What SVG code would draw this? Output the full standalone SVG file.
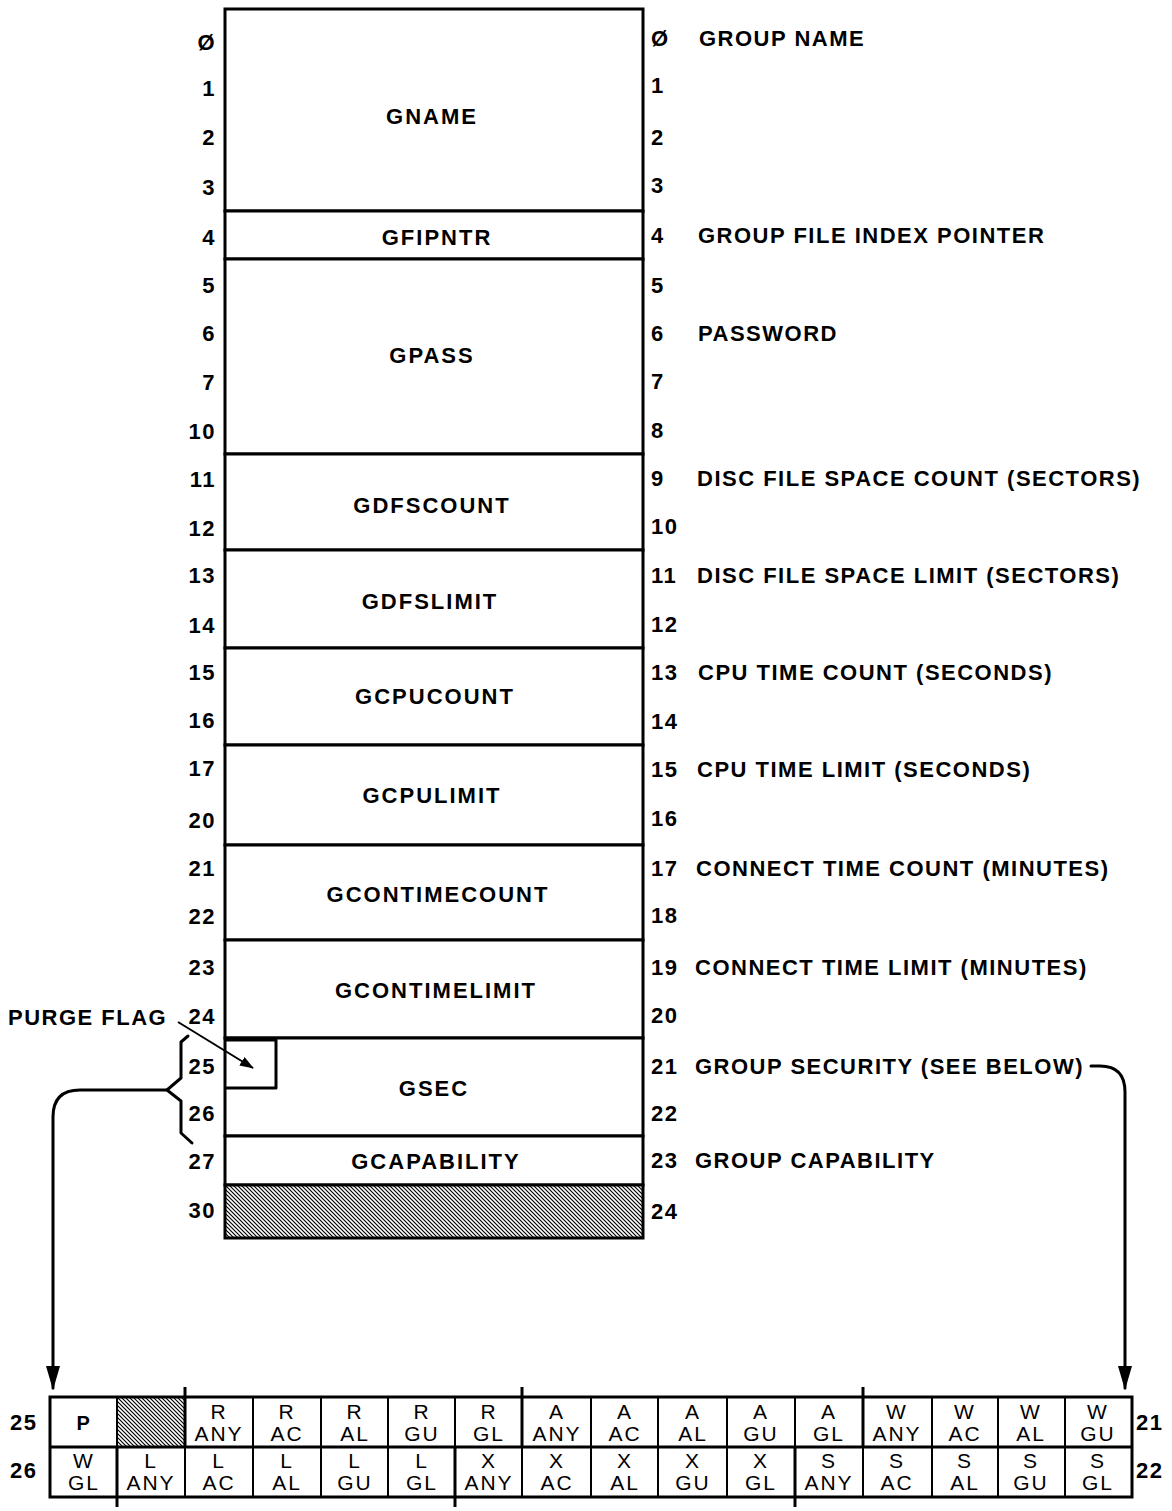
<svg xmlns="http://www.w3.org/2000/svg" width="1172" height="1511" viewBox="0 0 1172 1511">
<style>
.b{font-family:"Liberation Sans",Arial,sans-serif;font-weight:bold;font-size:22px;fill:#000;letter-spacing:1.5px}
.nl{text-anchor:end}
.nd{letter-spacing:2px;text-anchor:middle}
.box{fill:#fff;stroke:#000;stroke-width:3}
.t{font-family:"Liberation Sans",Arial,sans-serif;font-size:21px;fill:#000;text-anchor:middle;letter-spacing:2px}
.ln{fill:none;stroke:#000;stroke-width:3;stroke-linecap:round;stroke-linejoin:round}
.thin{fill:none;stroke:#000;stroke-width:2}
</style>
<defs>
<pattern id="hatch" patternUnits="userSpaceOnUse" width="4" height="4">
<rect width="4" height="4" fill="#fff"/>
<path d="M-1,-1 L5,5 M-1,3 L1,5 M3,-1 L5,1" stroke="#000" stroke-width="1.2"/>
</pattern>
<marker id="ah" markerWidth="24" markerHeight="14" refX="22" refY="7" orient="auto" markerUnits="userSpaceOnUse" viewBox="0 0 24 14">
<path d="M0,0 L24,7 L0,14 Z" fill="#000"/>
</marker>
<marker id="sa" markerWidth="14" markerHeight="10" refX="13" refY="5" orient="auto" markerUnits="userSpaceOnUse" viewBox="0 0 14 10">
<path d="M0,0 L14,5 L0,10 Z" fill="#000"/>
</marker>
</defs>

<g id="gname"><rect class="box" x="225" y="9" width="418" height="202"/><text class="b nd" x="432" y="124">GNAME</text></g>
<g id="gfipntr"><rect class="box" x="225" y="211" width="418" height="48"/><text class="b nd" x="437" y="245">GFIPNTR</text></g>
<g id="gpass"><rect class="box" x="225" y="259" width="418" height="195"/><text class="b nd" x="432" y="363">GPASS</text></g>
<g id="gdfscount"><rect class="box" x="225" y="454" width="418" height="96"/><text class="b nd" x="432" y="513">GDFSCOUNT</text></g>
<g id="gdfslimit"><rect class="box" x="225" y="550" width="418" height="98"/><text class="b nd" x="430" y="609">GDFSLIMIT</text></g>
<g id="gcpucount"><rect class="box" x="225" y="648" width="418" height="97"/><text class="b nd" x="435" y="704">GCPUCOUNT</text></g>
<g id="gcpulimit"><rect class="box" x="225" y="745" width="418" height="100"/><text class="b nd" x="432" y="803">GCPULIMIT</text></g>
<g id="gcontimecount"><rect class="box" x="225" y="845" width="418" height="95"/><text class="b nd" x="438" y="902">GCONTIMECOUNT</text></g>
<g id="gcontimelimit"><rect class="box" x="225" y="940" width="418" height="98"/><text class="b nd" x="436" y="998">GCONTIMELIMIT</text></g>
<g id="gsec"><rect class="box" x="225" y="1038" width="418" height="98"/><path class="ln" d="M227,1040 H276 V1088 H227"/><text class="b nd" x="434" y="1096">GSEC</text></g>
<g id="gcapability"><rect class="box" x="225" y="1136" width="418" height="49"/><text class="b nd" x="436" y="1169">GCAPABILITY</text></g>
<g id="filler"><rect x="225" y="1185" width="418" height="53" fill="url(#hatch)" stroke="#000" stroke-width="3"/></g>

<g id="left-numbers" class="b nl">
<text x="216" y="50">Ø</text><text x="216" y="96">1</text><text x="216" y="145">2</text><text x="216" y="195">3</text>
<text x="216" y="245">4</text><text x="216" y="293">5</text><text x="216" y="341">6</text><text x="216" y="390">7</text>
<text x="216" y="439">10</text><text x="216" y="487">11</text><text x="216" y="536">12</text><text x="216" y="583">13</text>
<text x="216" y="633">14</text><text x="216" y="680">15</text><text x="216" y="728">16</text><text x="216" y="776">17</text>
<text x="216" y="828">20</text><text x="216" y="876">21</text><text x="216" y="924">22</text><text x="216" y="975">23</text>
<text x="216" y="1024">24</text><text x="216" y="1074">25</text><text x="216" y="1121">26</text><text x="216" y="1169">27</text>
<text x="216" y="1218">30</text>
</g>

<g id="right-numbers" class="b">
<text x="651" y="46">Ø</text><text x="651" y="93">1</text><text x="651" y="145">2</text><text x="651" y="193">3</text>
<text x="651" y="243">4</text><text x="651" y="293">5</text><text x="651" y="341">6</text><text x="651" y="389">7</text>
<text x="651" y="438">8</text><text x="651" y="486">9</text><text x="651" y="534">10</text><text x="651" y="583">11</text>
<text x="651" y="632">12</text><text x="651" y="680">13</text><text x="651" y="729">14</text><text x="651" y="777">15</text>
<text x="651" y="826">16</text><text x="651" y="876">17</text><text x="651" y="923">18</text><text x="651" y="975">19</text>
<text x="651" y="1023">20</text><text x="651" y="1074">21</text><text x="651" y="1121">22</text><text x="651" y="1168">23</text>
<text x="651" y="1219">24</text>
</g>

<g id="descriptions" class="b">
<text x="699" y="46">GROUP NAME</text>
<text x="698" y="243">GROUP FILE INDEX POINTER</text>
<text x="698" y="341">PASSWORD</text>
<text x="697" y="486">DISC FILE SPACE COUNT (SECTORS)</text>
<text x="697" y="583">DISC FILE SPACE LIMIT (SECTORS)</text>
<text x="698" y="680">CPU TIME COUNT (SECONDS)</text>
<text x="697" y="777">CPU TIME LIMIT (SECONDS)</text>
<text x="696" y="876">CONNECT TIME COUNT (MINUTES)</text>
<text x="695" y="975">CONNECT TIME LIMIT (MINUTES)</text>
<text x="695" y="1074">GROUP SECURITY (SEE BELOW)</text>
<text x="695" y="1168">GROUP CAPABILITY</text>
<text x="8" y="1025">PURGE FLAG</text>
</g>

<g id="connectors">
<line class="thin" x1="178" y1="1022" x2="253" y2="1068" marker-end="url(#sa)"/>
<path class="ln" d="M188,1036 L181,1042 V1078 L167,1090 L181,1101 V1133 L192,1143"/>
<path class="ln" d="M167,1090 H80 Q53,1090 53,1117 V1388" marker-end="url(#ah)"/>
<path class="ln" d="M1091,1066 H1100 Q1125,1066 1125,1092 V1388" marker-end="url(#ah)"/>
</g>

<g id="security-table">
<rect x="117" y="1398" width="68" height="49" fill="url(#hatch)"/>
<rect x="50" y="1397" width="1082" height="100" fill="none" stroke="#000" stroke-width="3"/>
<line x1="50" y1="1447" x2="1132" y2="1447" stroke="#000" stroke-width="3"/>
<g stroke="#000" stroke-width="2">
<line x1="117" y1="1397" x2="117" y2="1497"/><line x1="185" y1="1397" x2="185" y2="1497"/>
<line x1="253" y1="1397" x2="253" y2="1497"/><line x1="321" y1="1397" x2="321" y2="1497"/>
<line x1="388" y1="1397" x2="388" y2="1497"/><line x1="455" y1="1397" x2="455" y2="1497"/>
<line x1="522" y1="1397" x2="522" y2="1497"/><line x1="591" y1="1397" x2="591" y2="1497"/>
<line x1="658" y1="1397" x2="658" y2="1497"/><line x1="727" y1="1397" x2="727" y2="1497"/>
<line x1="795" y1="1397" x2="795" y2="1497"/><line x1="863" y1="1397" x2="863" y2="1497"/>
<line x1="932" y1="1397" x2="932" y2="1497"/><line x1="998" y1="1397" x2="998" y2="1497"/>
<line x1="1065" y1="1397" x2="1065" y2="1497"/>
</g>
<g stroke="#000" stroke-width="3">
<line x1="185" y1="1387" x2="185" y2="1447"/><line x1="522" y1="1387" x2="522" y2="1447"/><line x1="863" y1="1387" x2="863" y2="1447"/>
<line x1="117" y1="1447" x2="117" y2="1507"/><line x1="455" y1="1447" x2="455" y2="1507"/><line x1="795" y1="1447" x2="795" y2="1507"/>
</g>
<g class="b"><text x="10" y="1430">25</text><text x="10" y="1478">26</text><text x="1136" y="1430">21</text><text x="1136" y="1478">22</text>
<text x="84" y="1430" style="text-anchor:middle;font-size:20px">P</text></g>
<g class="t">
<text x="84" y="1468">W</text><text x="84" y="1490">GL</text>
<text x="219" y="1419">R</text><text x="219" y="1441">ANY</text>
<text x="287" y="1419">R</text><text x="287" y="1441">AC</text>
<text x="355" y="1419">R</text><text x="355" y="1441">AL</text>
<text x="422" y="1419">R</text><text x="422" y="1441">GU</text>
<text x="489" y="1419">R</text><text x="489" y="1441">GL</text>
<text x="557" y="1419">A</text><text x="557" y="1441">ANY</text>
<text x="625" y="1419">A</text><text x="625" y="1441">AC</text>
<text x="693" y="1419">A</text><text x="693" y="1441">AL</text>
<text x="761" y="1419">A</text><text x="761" y="1441">GU</text>
<text x="829" y="1419">A</text><text x="829" y="1441">GL</text>
<text x="897" y="1419">W</text><text x="897" y="1441">ANY</text>
<text x="965" y="1419">W</text><text x="965" y="1441">AC</text>
<text x="1031" y="1419">W</text><text x="1031" y="1441">AL</text>
<text x="1098" y="1419">W</text><text x="1098" y="1441">GU</text>
<text x="151" y="1468">L</text><text x="151" y="1490">ANY</text>
<text x="219" y="1468">L</text><text x="219" y="1490">AC</text>
<text x="287" y="1468">L</text><text x="287" y="1490">AL</text>
<text x="355" y="1468">L</text><text x="355" y="1490">GU</text>
<text x="422" y="1468">L</text><text x="422" y="1490">GL</text>
<text x="489" y="1468">X</text><text x="489" y="1490">ANY</text>
<text x="557" y="1468">X</text><text x="557" y="1490">AC</text>
<text x="625" y="1468">X</text><text x="625" y="1490">AL</text>
<text x="693" y="1468">X</text><text x="693" y="1490">GU</text>
<text x="761" y="1468">X</text><text x="761" y="1490">GL</text>
<text x="829" y="1468">S</text><text x="829" y="1490">ANY</text>
<text x="897" y="1468">S</text><text x="897" y="1490">AC</text>
<text x="965" y="1468">S</text><text x="965" y="1490">AL</text>
<text x="1031" y="1468">S</text><text x="1031" y="1490">GU</text>
<text x="1098" y="1468">S</text><text x="1098" y="1490">GL</text>
</g>
</g>
</svg>
